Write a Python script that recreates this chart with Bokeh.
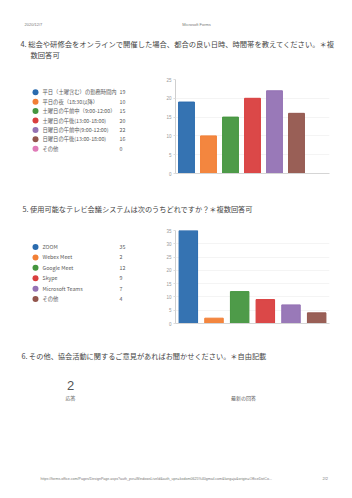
from bokeh.plotting import figure
from bokeh.layouts import column, row
from bokeh.models import Range1d, FactorRange, FixedTicker, ColumnDataSource
from bokeh.core.properties import value
from bokeh.embed import file_html
from bokeh.resources import INLINE

JP = "Noto Sans CJK JP"

# ---- data ----
q4_title = "4. 総会や研修会をオンラインで開催した場合、都合の良い日時、時間帯を教えてください。＊複"
q4_title2 = "数回答可"
q4_labels = ["平日（土曜含む）の勤務時間内", "平日の夜（18:30以降）", "土曜日の午前中（9:00-12:00）",
             "土曜日の午後(13:00-18:00)", "日曜日の午前中(9:00-12:00)", "日曜日の午後(13:00-18:00)", "その他"]
q4_values = [19, 10, 15, 20, 22, 16, 0]
q4_ticks = [0, 5, 10, 15, 20, 25]

q5_title = "5. 使用可能なテレビ会議システムは次のうちどれですか？＊複数回答可"
q5_labels = ["ZOOM", "Webex Meet", "Google Meet", "Skype", "Microsoft Teams", "その他"]
q5_values = [35, 2, 12, 9, 7, 4]
q5_ticks = [0, 5, 10, 15, 20, 25, 30, 35]

q6_title = "6. その他、協会活動に関するご意見があればお聞かせください。＊自由記載"
q6_count = "2"

palette = ["#2a6bae", "#f27f35", "#45963f", "#d93e3e", "#9472b4", "#93564d", "#e07bb8"]

W = 352


def text_fig(h):
    p = figure(width=W, height=h, x_range=Range1d(0, W), y_range=Range1d(h, 0),
               toolbar_location=None, output_backend="svg",
               x_axis_location=None, y_axis_location=None,
               min_border=0, outline_line_color=None)
    p.grid.visible = False
    return p


def txt(p, x, y, s, size, color="#444444", align="left", font=JP):
    p.text(x=[x], y=[y], text=[s], text_font=value(font), text_font_size=size,
           text_color=color, text_align=align, text_baseline="middle")


def legend_fig(h, labels, vals, y0, dy):
    p = text_fig(h)
    p.width = 150
    p.x_range = Range1d(0, 150)
    ys = [y0 + i * dy for i in range(len(labels))]
    p.scatter(x=[35] * len(labels), y=ys, size=6, color=palette[:len(labels)], line_color=None)
    p.text(x=[42] * len(labels), y=ys, text=labels, text_font=value(JP), text_font_size="5.3px",
           text_color="#5a5a5a", text_baseline="middle")
    p.text(x=[119] * len(labels), y=ys, text=[str(v) for v in vals], text_font=value(JP),
           text_font_size="5.3px", text_color="#5a5a5a", text_baseline="middle")
    return p


def bar_fig(h, labels, vals, ymax, ticks, top, bottom, bw):
    src = ColumnDataSource(dict(x=labels, top=vals, color=palette[:len(labels)]))
    p = figure(width=202, height=h, x_range=FactorRange(*labels, range_padding=0),
               y_range=Range1d(0, ymax), toolbar_location=None, output_backend="svg",
               min_border_left=25, min_border_right=23, min_border_top=top,
               min_border_bottom=bottom, outline_line_color=None)
    p.vbar(x="x", top="top", width=bw, color="color", source=src, fill_alpha=0.95)
    p.xgrid.visible = False
    p.ygrid.grid_line_color = "#f4f4f4"
    p.ygrid.ticker = FixedTicker(ticks=ticks)
    p.yaxis.ticker = FixedTicker(ticks=ticks)
    p.yaxis.major_label_text_font_size = "4.5px"
    p.yaxis.major_label_text_color = "#999999"
    p.yaxis.axis_line_color = "#cfcfcf"
    p.yaxis.major_tick_line_color = "#dddddd"
    p.yaxis.major_tick_out = 2
    p.yaxis.major_tick_in = 0
    p.yaxis.minor_tick_line_color = None
    p.yaxis.major_label_standoff = 2
    p.xaxis.axis_line_color = "#d5d5d5"
    p.xaxis.major_tick_line_color = None
    p.xaxis.minor_tick_line_color = None
    p.xaxis.major_label_text_font_size = "0px"
    p.xaxis.major_label_text_alpha = 0
    return p


# top header + Q4
top = text_fig(68)
txt(top, 24, 24, "2020/12/7", "4px", "#777777", font="Liberation Sans")
txt(top, 196, 24, "Microsoft Forms", "4px", "#777777", "center", font="Liberation Sans")
txt(top, 20, 43, q4_title, "7.3px")
txt(top, 30, 54, q4_title2, "7.3px")

row1 = row(legend_fig(132, q4_labels, q4_values, 18, 13.2),
           bar_fig(132, q4_labels, q4_values, 25, q4_ticks, 11, 27, 0.72))

mid = text_fig(22)
txt(mid, 22, 8, q5_title, "7.2px")

row2 = row(legend_fig(118, q5_labels, q5_values, 21, 13.2),
           bar_fig(118, q5_labels, q5_values, 35, q5_ticks, 8, 17, 0.72))

bot = text_fig(158)
txt(bot, 21, 15, q6_title, "7.2px")
txt(bot, 70, 45, q6_count, "13px", "#555555", "center", font="Liberation Sans")
txt(bot, 70, 57, "応答", "5px", "#5a5a5a", "center")
txt(bot, 243, 57, "最新の回答", "5px", "#5a5a5a", "center")
txt(bot, 40, 138, "https://forms.office.com/Pages/DesignPage.aspx?auth_pvr=WindowsLiveId&auth_upn=kodom0625%40gmail.com&lang=ja&origin=OfficeDotCo...",
    "3.6px", "#777777", font="Liberation Sans")
txt(bot, 322, 138, "2/2", "4px", "#777777", font="Liberation Sans")

page = column(top, row1, mid, row2, bot)
open("out.html", "w").write(file_html(page, INLINE))
